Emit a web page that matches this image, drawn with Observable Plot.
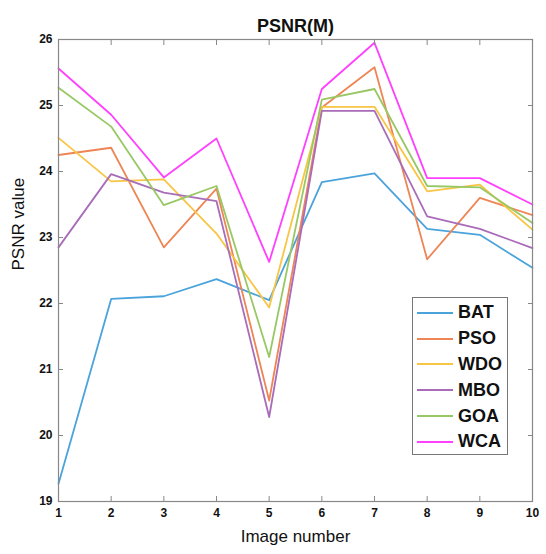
<!DOCTYPE html>
<html>
<head>
<meta charset="utf-8">
<script src="https://cdn.jsdelivr.net/npm/d3@7"></script>
<script src="https://cdn.jsdelivr.net/npm/@observablehq/plot@0.6"></script>
<style>
  html, body { margin: 0; padding: 0; background: #fff; }
  #wrap { position: relative; width: 546px; height: 554px; font-family: "Liberation Sans", Arial, sans-serif; }
  #legend { position: absolute; left: 412px; top: 297px; width: 96px; height: 158px; border: 1px solid #777; background: #fff; box-sizing: border-box; padding-top: 2px; }
  .item { display: flex; align-items: center; height: 25.8px; }
  .sw { width: 36px; height: 0; border-top: 2px solid; margin-left: 4px; margin-right: 5px; }
  .lab { font-size: 18px; font-weight: bold; color: #111; }
</style>
</head>
<body>
<div id="wrap"></div>
<script>
const imageNumbers = [1, 2, 3, 4, 5, 6, 7, 8, 9, 10];
const seriesNames = ["BAT", "PSO", "WDO", "MBO", "GOA", "WCA"];
const seriesColors = ["#4ba3dc", "#ee8555", "#f8c545", "#a86cb8", "#98c864", "#ff40ff"];
const BAT = [19.27, 22.07, 22.11, 22.37, 22.05, 23.84, 23.97, 23.13, 23.04, 22.54];
const PSO = [24.25, 24.36, 22.85, 23.74, 20.53, 24.97, 25.58, 22.67, 23.60, 23.34];
const WDO = [24.51, 23.85, 23.88, 23.06, 21.94, 24.98, 24.98, 23.70, 23.80, 23.12];
const MBO = [22.85, 23.96, 23.68, 23.55, 20.28, 24.92, 24.92, 23.32, 23.13, 22.84];
const GOA = [25.27, 24.68, 23.49, 23.78, 21.19, 25.09, 25.25, 23.78, 23.76, 23.22];
const WCA = [25.56, 24.86, 23.91, 24.50, 22.63, 25.25, 25.95, 23.90, 23.90, 23.50];
const xTicks = [1, 2, 3, 4, 5, 6, 7, 8, 9, 10];
const yTicks = [19, 20, 21, 22, 23, 24, 25, 26];

const seriesValues = [BAT, PSO, WDO, MBO, GOA, WCA];
const data = seriesNames.flatMap((name, i) =>
  imageNumbers.map((x, j) => ({series: name, x, y: seriesValues[i][j]})));

const tickFont = {fontSize: 12, fontWeight: "bold", tickFormat: d => String(d)};
const chart = Plot.plot({
  width: 546, height: 554,
  marginLeft: 58, marginRight: 14, marginTop: 39, marginBottom: 53,
  x: {domain: [1, 10]},
  y: {domain: [19, 26]},
  color: {domain: seriesNames, range: seriesColors},
  style: {fontFamily: "Liberation Sans, Arial, sans-serif", background: "#fff", color: "#111"},
  marks: [
    Plot.line(data, {x: "x", y: "y", z: "series", stroke: "series", strokeWidth: 1.8}),
    Plot.frame({stroke: "#888", strokeWidth: 1.2}),
    Plot.axisX(xTicks, {anchor: "bottom", tickSize: -5, text: null, stroke: "#888", label: null}),
    Plot.axisX(xTicks, {anchor: "top", tickSize: -5, text: null, stroke: "#888", label: null}),
    Plot.axisY(yTicks, {anchor: "left", tickSize: -5, text: null, stroke: "#888", label: null}),
    Plot.axisY(yTicks, {anchor: "right", tickSize: -5, text: null, stroke: "#888", label: null}),
    Plot.axisX(xTicks, {anchor: "bottom", tickSize: 0, tickPadding: 7, label: null, ...tickFont}),
    Plot.axisY(yTicks, {anchor: "left", tickSize: 0, tickPadding: 6, label: null, ...tickFont}),
    Plot.text(["PSNR(M)"], {frameAnchor: "top", dy: -20, fontSize: 18, fontWeight: "bold"}),
    Plot.text(["Image number"], {frameAnchor: "bottom", dy: 40, fontSize: 17}),
    Plot.text(["PSNR value"], {frameAnchor: "left", dx: -40, rotate: -90, fontSize: 17})
  ]
});
const wrap = document.getElementById("wrap");
wrap.appendChild(chart);

const legend = document.createElement("div");
legend.id = "legend";
seriesNames.forEach((name, i) => {
  const item = document.createElement("div");
  item.className = "item";
  const sw = document.createElement("div");
  sw.className = "sw";
  sw.style.borderTopColor = seriesColors[i];
  const lab = document.createElement("span");
  lab.className = "lab";
  lab.textContent = name;
  item.appendChild(sw); item.appendChild(lab);
  legend.appendChild(item);
});
wrap.appendChild(legend);
</script>
</body>
</html>
